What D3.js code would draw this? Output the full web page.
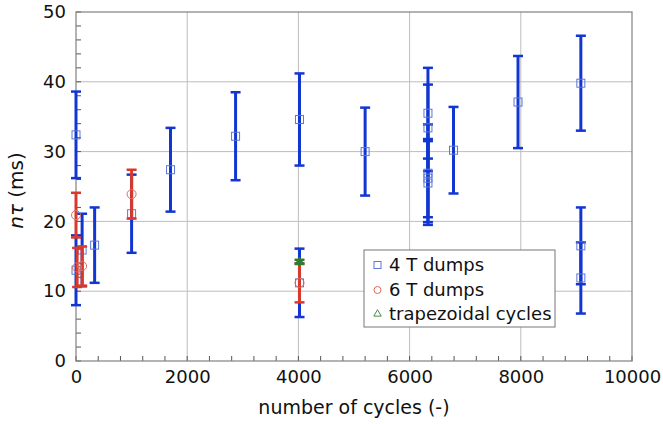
<!DOCTYPE html>
<html><head><meta charset="utf-8">
<script src="https://cdn.jsdelivr.net/npm/d3@7"></script>
<style>
body{margin:0;background:#fff;}
text{font-family:"DejaVu Sans",Verdana,sans-serif;fill:#111;}
</style></head>
<body><svg id="c" width="663" height="424"></svg>
<script>
const xTicks = [0, 2000, 4000, 6000, 8000, 10000];
const yTicks = [0, 10, 20, 30, 40, 50];
const seriesNames = ["4 T dumps", "6 T dumps", "trapezoidal cycles"];

const dumps4T_cycles = [0, 0, 110, 335, 1000, 1700, 2870, 4020, 4020, 5200, 6330, 6330, 6330, 6330, 6330, 6790, 7950, 9080, 9080, 9080];
const dumps4T_values = [32.4, 13.0, 15.9, 16.6, 21.1, 27.4, 32.2, 34.6, 11.2, 30.0, 35.5, 33.4, 26.9, 26.2, 25.5, 30.2, 37.1, 39.8, 16.5, 11.9];
const dumps4T_errors = [6.2, 5.0, 5.2, 5.4, 5.6, 6.0, 6.3, 6.6, 4.9, 6.3, 6.5, 6.2, 7.0, 5.6, 6.0, 6.2, 6.6, 6.8, 5.5, 5.1];

const dumps6T_cycles = [0, 20, 110, 1000, 4020];
const dumps6T_values = [20.9, 13.4, 13.6, 23.9, 11.2];
const dumps6T_errors = [3.2, 2.8, 2.8, 3.5, 2.8];

const trap_cycles = [4020];
const trap_values = [14.2];
const trap_errors = [0.3];

const W = 663, H = 424;
const m = {l: 76, r: 31, t: 12, b: 63};
const svg = d3.select("#c");
const x = d3.scaleLinear().domain([0, 10000]).range([m.l, W - m.r]);
const y = d3.scaleLinear().domain([0, 50]).range([H - m.b, m.t]);

// gridlines
const g = svg.append("g");
g.selectAll(".gx").data(xTicks.slice(1, -1)).join("line")
  .attr("x1", d => x(d)).attr("x2", d => x(d)).attr("y1", y(0)).attr("y2", y(50))
  .attr("stroke", "#bdbdbd").attr("stroke-width", 1);
g.selectAll(".gy").data(yTicks.slice(1, -1)).join("line")
  .attr("x1", x(0)).attr("x2", x(10000)).attr("y1", d => y(d)).attr("y2", d => y(d))
  .attr("stroke", "#bdbdbd").attr("stroke-width", 1);

// axes
const xAxis = d3.axisBottom(x).tickValues(xTicks).tickSize(0).tickPadding(9).tickFormat(d3.format("d"));
const yAxis = d3.axisLeft(y).tickValues(yTicks).tickSize(0).tickPadding(10);
const gx = svg.append("g").attr("transform", `translate(0,${y(0)})`).call(xAxis);
const gy = svg.append("g").attr("transform", `translate(${x(0)},0)`).call(yAxis);
[gx, gy].forEach(a => {
  a.select(".domain").remove();
  a.selectAll("text").style("font-size", "18px").attr("fill", "#111");
});
// minor ticks (inward)
const xMinor = d3.range(0, 10001, 400);
svg.append("g").selectAll("line").data(xMinor).join("line")
  .attr("x1", d => x(d)).attr("x2", d => x(d)).attr("y1", y(0)).attr("y2", y(0) - 5)
  .attr("stroke", "#555").attr("stroke-width", 1);
const yMinor = d3.range(0, 51, 2);
svg.append("g").selectAll("line").data(yMinor).join("line")
  .attr("x1", x(0)).attr("x2", x(0) + 5).attr("y1", d => y(d)).attr("y2", d => y(d))
  .attr("stroke", "#555").attr("stroke-width", 1);
// frame
svg.append("rect").attr("x", x(0)).attr("y", y(50)).attr("width", x(10000) - x(0)).attr("height", y(0) - y(50))
  .attr("fill", "none").attr("stroke", "#808080").attr("stroke-width", 1.2);

// series
function errBars(cycles, vals, errs, color) {
  const gg = svg.append("g");
  const d = cycles.map((c, i) => ({c, v: vals[i], e: errs[i]}));
  gg.selectAll(".v").data(d).join("line")
    .attr("x1", p => x(p.c)).attr("x2", p => x(p.c))
    .attr("y1", p => y(p.v - p.e)).attr("y2", p => y(p.v + p.e))
    .attr("stroke", color).attr("stroke-width", 3);
  ["lo", "hi"].forEach(k => {
    gg.selectAll(".c" + k).data(d).join("line")
      .attr("x1", p => x(p.c) - 5).attr("x2", p => x(p.c) + 5)
      .attr("y1", p => y(k === "lo" ? p.v - p.e : p.v + p.e))
      .attr("y2", p => y(k === "lo" ? p.v - p.e : p.v + p.e))
      .attr("stroke", color).attr("stroke-width", 2.5);
  });
  return d;
}
const bc = "#1236d2", rc = "#d9392a", gc = "#2f7d32";
const d4 = errBars(dumps4T_cycles, dumps4T_values, dumps4T_errors, bc);
svg.append("g").selectAll("rect").data(d4).join("rect")
  .attr("x", p => x(p.c) - 4).attr("y", p => y(p.v) - 4).attr("width", 8).attr("height", 8)
  .attr("fill", "none").attr("stroke", "#5b78d6").attr("stroke-width", 1);
const d6 = errBars(dumps6T_cycles, dumps6T_values, dumps6T_errors, rc);
svg.append("g").selectAll("circle").data(d6).join("circle")
  .attr("cx", p => x(p.c)).attr("cy", p => y(p.v)).attr("r", 4.5)
  .attr("fill", "none").attr("stroke", "#e06a5e").attr("stroke-width", 1);
const dt = errBars(trap_cycles, trap_values, trap_errors, gc);
const tri = d3.symbol().type(d3.symbolTriangle).size(30);
svg.append("g").selectAll("path").data(dt).join("path")
  .attr("d", tri).attr("transform", p => `translate(${x(p.c)},${y(p.v)})`)
  .attr("fill", gc).attr("stroke", gc).attr("stroke-width", 1);

// legend
const lg = svg.append("g");
lg.append("rect").attr("x", 364).attr("y", 250).attr("width", 191).attr("height", 77)
  .attr("fill", "#fff").attr("stroke", "#777").attr("stroke-width", 1);
const ly = [265, 290, 314];
lg.append("rect").attr("x", 374).attr("y", ly[0] - 3.5).attr("width", 7).attr("height", 7)
  .attr("fill", "none").attr("stroke", "#5b78d6");
lg.append("circle").attr("cx", 377.5).attr("cy", ly[1]).attr("r", 3.5)
  .attr("fill", "none").attr("stroke", "#e06a5e");
lg.append("path").attr("d", d3.symbol().type(d3.symbolTriangle).size(24))
  .attr("transform", `translate(377.5,${ly[2]})`).attr("fill", "none").attr("stroke", "#4a8a4a");
lg.selectAll("text").data(seriesNames).join("text")
  .attr("x", 389).attr("y", (d, i) => ly[i]).attr("dy", "0.36em")
  .style("font-size", "18px").text(d => d);

// titles
svg.append("text").attr("x", (x(0) + x(10000)) / 2).attr("y", 414).attr("text-anchor", "middle")
  .style("font-size", "19px").text("number of cycles (-)");
const yt = svg.append("text").attr("transform", `translate(23,${(y(0) + y(50)) / 2 + 4}) rotate(-90)`)
  .attr("text-anchor", "middle").style("font-size", "20px");
yt.append("tspan").style("font-style", "italic").text("nτ");
yt.append("tspan").text(" (ms)");
</script></body></html>
